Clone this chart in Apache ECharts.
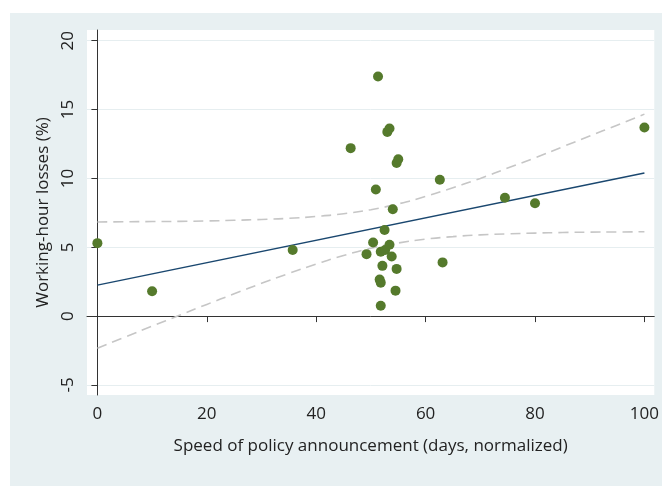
<!DOCTYPE html>
<html>
<head>
<meta charset="utf-8">
<script src="https://cdn.jsdelivr.net/npm/echarts@6/dist/echarts.min.js"></script>
<style>
  html, body { margin: 0; padding: 0; background: #fff; }
  #bg { position: absolute; left: 10px; top: 13px; width: 652px; height: 473px; background: #e8f0f2; }
  #main { position: absolute; left: 0; top: 0; width: 662px; height: 486px; }
</style>
</head>
<body>
<div id="bg"></div>
<div id="main"></div>
<script>
// scatter points [speed, losses]
var points = [
    [0, 5.3], [10, 1.8], [35.7, 4.8], [46.3, 12.2], [49.2, 4.5], [50.4, 5.35],
    [50.9, 9.2], [51.3, 17.4], [51.6, 2.65], [51.8, 2.43], [51.8, 0.75], [51.8, 4.67],
    [52.6, 4.8], [52.1, 3.65], [52.5, 6.26], [53.0, 13.38], [53.4, 13.63], [53.4, 5.18],
    [53.8, 4.33], [54.0, 7.76], [54.5, 1.85], [54.7, 3.43], [54.7, 11.12], [55.0, 11.39],
    [62.6, 9.9], [63.1, 3.9], [74.5, 8.6], [80.0, 8.2], [100, 13.7]
];
// fitted line
var fitLine = [[0, 2.25], [100, 10.4]];
// confidence band
var ciX = [0, 5, 10, 15, 20, 25, 30, 35, 40, 45, 50, 55, 60, 65, 70, 75, 80, 85, 90, 95, 100];
var ciUpper = [6.84, 6.85, 6.87, 6.88, 6.91, 6.96, 7.02, 7.10, 7.24, 7.44, 7.73, 8.15, 8.69, 9.33, 10.0, 10.75, 11.5, 12.29, 13.08, 13.87, 14.67];
var ciLower = [-2.34, -1.53, -0.73, 0.06, 0.85, 1.62, 2.38, 3.10, 3.78, 4.40, 4.93, 5.31, 5.59, 5.77, 5.90, 5.97, 6.03, 6.07, 6.10, 6.11, 6.13];
var xTicks = [0, 20, 40, 60, 80, 100];
var yTicks = [-5, 0, 5, 10, 15, 20];

function pairs(xs, ys) {
    return xs.map(function (x, i) { return [x, ys[i]]; });
}

var myChart = echarts.init(document.getElementById('main'));
var font = '"Open Sans", "Noto Sans", sans-serif';
var ciStyle = { color: '#c6c6c6', width: 1.6, type: [10, 6] };

var option = {
    backgroundColor: 'transparent',
    animation: false,
    grid: {
        left: 87, right: 7, top: 30, bottom: 91,
        show: true, backgroundColor: '#fff', borderWidth: 0
    },
    xAxis: {
        type: 'value',
        min: -1.9, max: 101.8,
        name: 'Speed of policy announcement (days, normalized)',
        nameLocation: 'middle',
        nameGap: 43,
        nameTextStyle: { fontFamily: font, fontSize: 17, color: '#222' },
        axisLine: { show: true, lineStyle: { color: '#333', width: 1 } },
        axisTick: { show: true, length: 6, customValues: xTicks, lineStyle: { color: '#333' } },
        axisLabel: { customValues: xTicks, margin: 11, fontFamily: font, fontSize: 17, color: '#222' },
        splitLine: { show: false }
    },
    yAxis: {
        type: 'value',
        min: -5.73, max: 20.78,
        name: 'Working-hour losses (%)',
        nameLocation: 'middle',
        nameGap: 31,
        nameTextStyle: { fontFamily: font, fontSize: 17, color: '#222' },
        axisLine: { show: true, lineStyle: { color: '#333', width: 1 } },
        axisTick: { show: true, length: 6, customValues: yTicks, lineStyle: { color: '#333' } },
        axisLabel: { customValues: yTicks, rotate: 90, margin: 10, fontFamily: font, fontSize: 17, color: '#222' },
        splitLine: { show: true, lineStyle: { color: '#e6eef0', width: 1 } }
    },
    series: [{
        name: 'upper',
        type: 'line',
        data: pairs(ciX, ciUpper),
        smooth: true,
        showSymbol: false,
        lineStyle: ciStyle,
        z: 2
    }, {
        name: 'lower',
        type: 'line',
        data: pairs(ciX, ciLower),
        smooth: true,
        showSymbol: false,
        lineStyle: ciStyle,
        z: 2
    }, {
        name: 'fit',
        type: 'line',
        data: fitLine,
        showSymbol: false,
        lineStyle: { color: '#1a476f', width: 1.5 },
        z: 3
    }, {
        name: 'points',
        type: 'scatter',
        data: points,
        symbolSize: 10,
        itemStyle: { color: '#557a2c', opacity: 1 },
        z: 4
    }]
};

myChart.setOption(option);
</script>
</body>
</html>
